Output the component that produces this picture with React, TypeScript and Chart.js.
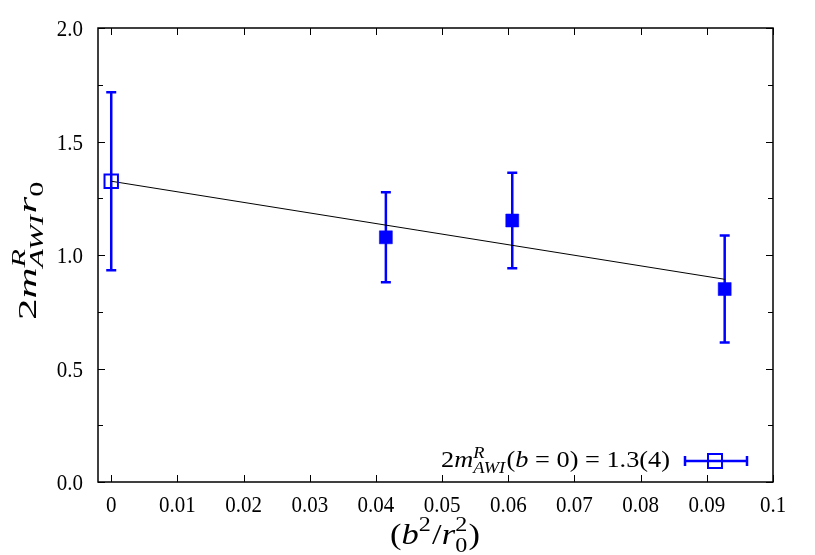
import React, { useEffect, useRef } from 'react';
import { Chart, registerables } from 'chart.js';

Chart.register(...registerables);

// ---- data ----
const xValues = [0, 0.0415, 0.0606, 0.0927];
const yValues = [1.325, 1.078, 1.152, 0.85];
const yErrors = [0.392, 0.198, 0.21, 0.236];
const openPoint = [true, false, false, false];
const fitX = [0, 0.0927];
const fitY = [1.325, 0.893];
const xTicks = [0, 0.01, 0.02, 0.03, 0.04, 0.05, 0.06, 0.07, 0.08, 0.09, 0.1];
const xTickLabels = ['0', '0.01', '0.02', '0.03', '0.04', '0.05', '0.06', '0.07', '0.08', '0.09', '0.1'];
const yTicks = [0, 0.5, 1.0, 1.5, 2.0];
const yTickLabels = ['0.0', '0.5', '1.0', '1.5', '2.0'];
const yMinorTicks = [0.25, 0.75, 1.25, 1.75];

const BLUE = '#0000ff';
const SERIF = '"Liberation Serif", "DejaVu Serif", serif';

type Seg = { t?: string; it?: boolean; sup?: string; sub?: string; supIt?: boolean; subIt?: boolean };

function fontOf(size: number, it?: boolean) {
  return `${it ? 'italic ' : ''}${size}px ${SERIF}`;
}

function segWidth(ctx: CanvasRenderingContext2D, seg: Seg, size: number) {
  if (seg.sup !== undefined || seg.sub !== undefined) {
    let w = 0;
    if (seg.sup) { ctx.font = fontOf(size * 0.7, seg.supIt); w = Math.max(w, ctx.measureText(seg.sup).width); }
    if (seg.sub) { ctx.font = fontOf(size * 0.7, seg.subIt); w = Math.max(w, ctx.measureText(seg.sub).width); }
    return w + 1;
  }
  ctx.font = fontOf(size, seg.it);
  return ctx.measureText(seg.t || '').width;
}

function drawRich(
  ctx: CanvasRenderingContext2D, segs: Seg[], x: number, y: number, size: number,
  align: 'left' | 'center' | 'right', sy = 1.2, targetW = 0,
) {
  let w = 0;
  for (const s of segs) w += segWidth(ctx, s, size);
  const sx = targetW > 0 ? targetW / w : 1;
  const tw = w * sx;
  const x0 = align === 'left' ? x : align === 'right' ? x - tw : x - tw / 2;
  ctx.save();
  ctx.translate(x0, y);
  ctx.scale(sx, sy);
  ctx.textAlign = 'left';
  ctx.textBaseline = 'alphabetic';
  let cx = 0;
  for (const s of segs) {
    const sw = segWidth(ctx, s, size);
    if (s.sup !== undefined || s.sub !== undefined) {
      if (s.sup) { ctx.font = fontOf(size * 0.7, s.supIt); ctx.fillText(s.sup, cx, -size * 0.42); }
      if (s.sub) { ctx.font = fontOf(size * 0.7, s.subIt); ctx.fillText(s.sub, cx, size * 0.25); }
    } else {
      ctx.font = fontOf(size, s.it);
      ctx.fillText(s.t || '', cx, 0);
    }
    cx += sw;
  }
  ctx.restore();
}

const legendSegs: Seg[] = [
  { t: '2' }, { t: 'm', it: true }, { sup: 'R', sub: 'AWI', supIt: true, subIt: true },
  { t: '(' }, { t: 'b', it: true }, { t: ' = 0) = 1.3(4)' },
];
const yLabelSegs: Seg[] = [
  { t: '2' }, { t: 'm', it: true }, { sup: 'R', sub: 'AWI', supIt: true, subIt: true },
  { t: 'r', it: true }, { sub: '0' },
];
const xLabelSegs: Seg[] = [
  { t: '(' }, { t: 'b', it: true }, { sup: '2' }, { t: '/' }, { t: 'r', it: true }, { sup: '2', sub: '0' }, { t: ')' },
];

const framePlugin = {
  id: 'frame',
  beforeDatasetsDraw(chart: any) {
    const ctx: CanvasRenderingContext2D = chart.ctx;
    const xs = chart.scales.x, ys = chart.scales.y;
    ctx.save();
    ctx.strokeStyle = BLUE;
    ctx.lineWidth = 2.5;
    for (let i = 0; i < xValues.length; i++) {
      const px = xs.getPixelForValue(xValues[i]);
      const top = ys.getPixelForValue(yValues[i] + yErrors[i]);
      const bot = ys.getPixelForValue(yValues[i] - yErrors[i]);
      ctx.beginPath();
      ctx.moveTo(px, top); ctx.lineTo(px, bot);
      ctx.moveTo(px - 5, top); ctx.lineTo(px + 5, top);
      ctx.moveTo(px - 5, bot); ctx.lineTo(px + 5, bot);
      ctx.stroke();
    }
    ctx.restore();
  },
  afterDraw(chart: any) {
    const ctx: CanvasRenderingContext2D = chart.ctx;
    const a = chart.chartArea;
    const xs = chart.scales.x, ys = chart.scales.y;
    ctx.save();
    ctx.strokeStyle = '#000';
    ctx.lineWidth = 1.5;
    ctx.strokeRect(a.left, a.top, a.right - a.left, a.bottom - a.top);
    ctx.lineWidth = 1;
    ctx.beginPath();
    const tl = 7;
    for (const v of xTicks) {
      const px = Math.round(xs.getPixelForValue(v)) + 0.5;
      ctx.moveTo(px, a.bottom); ctx.lineTo(px, a.bottom - tl);
      ctx.moveTo(px, a.top); ctx.lineTo(px, a.top + tl);
    }
    for (const v of yTicks.concat(yMinorTicks)) {
      const py = Math.round(ys.getPixelForValue(v)) + 0.5;
      const l = yMinorTicks.includes(v) ? 5 : tl;
      ctx.moveTo(a.left, py); ctx.lineTo(a.left + l, py);
      ctx.moveTo(a.right, py); ctx.lineTo(a.right - l, py);
    }
    ctx.stroke();

    ctx.fillStyle = '#000';
    // tick labels
    xTicks.forEach((v, i) => {
      drawRich(ctx, [{ t: xTickLabels[i] }], xs.getPixelForValue(v), a.bottom + 30, 21, 'center', 1.12);
    });
    yTicks.forEach((v, i) => {
      drawRich(ctx, [{ t: yTickLabels[i] }], a.left - 15, ys.getPixelForValue(v) + 8, 21, 'right', 1.12);
    });

    // legend
    const ly = a.bottom - 21;
    drawRich(ctx, legendSegs, a.right - 103, ly + 6, 20, 'right', 1.12, 229);
    ctx.strokeStyle = BLUE;
    ctx.lineWidth = 2.5;
    ctx.beginPath();
    ctx.moveTo(a.right - 88, ly); ctx.lineTo(a.right - 26, ly);
    ctx.moveTo(a.right - 88, ly - 5); ctx.lineTo(a.right - 88, ly + 5);
    ctx.moveTo(a.right - 26, ly - 5); ctx.lineTo(a.right - 26, ly + 5);
    ctx.stroke();
    ctx.lineWidth = 2;
    ctx.strokeRect(a.right - 65, ly - 7, 14, 14);

    // axis titles
    drawRich(ctx, xLabelSegs, 435, 544, 27, 'center', 1.12, 90);
    ctx.translate(36, 250);
    ctx.rotate(-Math.PI / 2);
    drawRich(ctx, yLabelSegs, 0, 0, 26, 'center', 1.0, 140);
    ctx.restore();
  },
};

export default function App() {
  const ref = useRef<HTMLCanvasElement | null>(null);
  useEffect(() => {
    if (!ref.current) return;
    const chart = new Chart(ref.current, {
      type: 'scatter',
      data: {
        datasets: [
          {
            label: 'data',
            data: xValues.map((x, i) => ({ x, y: yValues[i] })),
            pointStyle: 'rect',
            pointRadius: xValues.map((_, i) => (openPoint[i] ? 9.5 : 9.2)),
            pointBackgroundColor: xValues.map((_, i) => (openPoint[i] ? 'rgba(0,0,0,0)' : BLUE)),
            pointBorderColor: BLUE,
            pointBorderWidth: xValues.map((_, i) => (openPoint[i] ? 2 : 0.5)),
            showLine: false,
            order: 1,
          },
          {
            label: 'fit',
            type: 'line',
            data: fitX.map((x, i) => ({ x, y: fitY[i] })),
            borderColor: '#000',
            borderWidth: 1,
            pointRadius: 0,
            fill: false,
            order: 2,
          } as any,
        ],
      },
      options: {
        responsive: false,
        animation: false,
        layout: { padding: { top: 28, right: 42, left: 0, bottom: 0 } },
        plugins: { legend: { display: false }, tooltip: { enabled: false } },
        scales: {
          x: {
            type: 'linear',
            min: -0.002,
            max: 0.1,
            grid: { display: false, drawTicks: false },
            border: { display: false },
            afterBuildTicks: (s: any) => { s.ticks = xTicks.map((v) => ({ value: v })); },
            afterFit: (s: any) => { s.height = 73; },
            ticks: { display: false },
          },
          y: {
            type: 'linear',
            min: 0,
            max: 2,
            grid: { display: false, drawTicks: false },
            border: { display: false },
            afterBuildTicks: (s: any) => { s.ticks = yTicks.map((v) => ({ value: v })); },
            afterFit: (s: any) => { s.width = 98; },
            ticks: { display: false },
          },
        },
      },
      plugins: [framePlugin],
    });
    return () => chart.destroy();
  }, []);
  return (
    <div style={{ position: 'fixed', left: 0, top: 0, width: 815, height: 555, background: '#fff' }}>
      <canvas ref={ref} width={815} height={555} />
    </div>
  );
}
